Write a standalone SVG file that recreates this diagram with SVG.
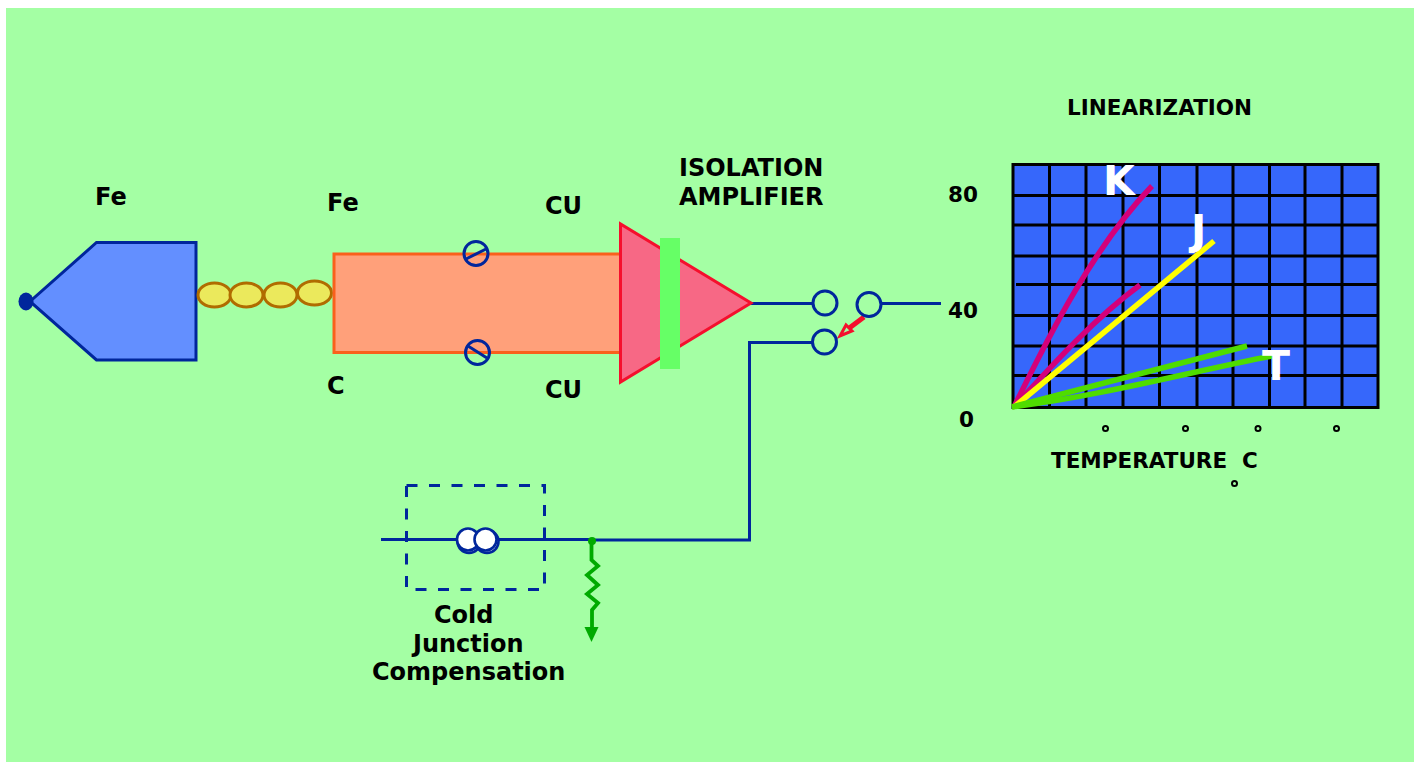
<svg xmlns="http://www.w3.org/2000/svg" width="1414" height="762" viewBox="0 0 1414 762">
<style>
text{font-family:"DejaVu Sans",sans-serif;font-weight:bold;fill:#000;font-size:24px}
.s{font-size:21.500px}
.w{fill:none;stroke:#00269c;stroke-width:3}
.c{fill:none;stroke:#00269c;stroke-width:3}
.b{fill:#ebe95c;stroke:#b06c00;stroke-width:3}
.g{stroke:#000;stroke-width:3;fill:none}
.deg{fill:none;stroke:#000;stroke-width:2}
.big{fill:#fff;font-size:41px}
</style>
<rect width="1414" height="762" fill="#fff"/>
<rect x="6" y="8" width="1408" height="754" fill="#a4ffa4"/>
<g id="connectors">
<path class="w" d="M751 303.500H814M880 303.500H941M813 342.500H749.500V540H591M381 539.500H591"/>
<path d="M591.500 541V560L598 566L587 575L598 585L587 594L598 603L592 610V630" fill="none" stroke="#00aa00" stroke-width="3.800"/>
<path d="M584.500 627H598.500L591.500 642Z" fill="#00aa00"/>
<circle cx="592" cy="541" r="4" fill="#00aa00"/>
<path d="M864 317L848 329" stroke="#f50f2d" stroke-width="5" fill="none"/>
<path d="M840 336L846 325L852 331Z" fill="#a4ffa4" stroke="#f50f2d" stroke-width="3"/>
</g>
<g id="probe">
<path d="M196 242.500H96.500L30 301.500L96.500 360H196Z" fill="#638fff" stroke="#00269c" stroke-width="3"/>
<ellipse cx="26" cy="301.500" rx="7.500" ry="9" fill="#00269c"/>
<text x="95" y="205">Fe</text>
</g>
<g id="beads">
<ellipse class="b" cx="214.500" cy="295" rx="16.500" ry="12"/>
<ellipse class="b" cx="246.500" cy="295" rx="16.500" ry="12"/>
<ellipse class="b" cx="280.500" cy="295" rx="16.500" ry="12"/>
<ellipse class="b" cx="314.500" cy="293" rx="17" ry="12"/>
</g>
<g id="extension">
<rect x="334" y="254" width="287" height="98.500" fill="#ffa07a" stroke="#f9601c" stroke-width="3"/>
<text x="327" y="211">Fe</text>
<text x="327" y="394">C</text>
<text x="545" y="214">CU</text>
<text x="545" y="398">CU</text>
</g>
<g id="terminal-top">
<circle class="c" cx="476" cy="253.500" r="12"/>
<path class="c" d="M466 259L486 249"/>
</g>
<g id="terminal-bottom">
<circle class="c" cx="477.500" cy="352.500" r="12"/>
<path class="c" d="M468 346L487 358"/>
</g>
<g id="amplifier">
<path d="M620.500 224V382L751 303Z" fill="#f76885" stroke="#f50f2d" stroke-width="3"/>
<rect x="660" y="238" width="20" height="131" fill="#66ff66"/>
<text x="679" y="176">ISOLATION</text>
<text x="679" y="205">AMPLIFIER</text>
</g>
<g id="switch">
<circle class="c" cx="825" cy="303" r="12"/>
<circle class="c" cx="869" cy="304.500" r="12"/>
<circle class="c" cx="824.500" cy="342" r="12"/>
</g>
<g id="cold-junction">
<rect x="406.500" y="485.500" width="138" height="104" fill="none" stroke="#00269c" stroke-width="3" stroke-dasharray="11 11.500"/>
<circle cx="469" cy="541.500" r="11.500" fill="#fff" stroke="#00269c" stroke-width="2.600"/>
<circle cx="487" cy="541.500" r="11.500" fill="#fff" stroke="#00269c" stroke-width="2.600"/>
<circle cx="468" cy="539.500" r="11" fill="#fff" stroke="#00269c" stroke-width="2.600"/>
<circle cx="485.500" cy="539.500" r="11" fill="#fff" stroke="#00269c" stroke-width="2.600"/>
<text x="434" y="623">Cold</text>
<text x="413" y="652">Junction</text>
<text x="372" y="680">Compensation</text>
</g>
<g id="chart">
<rect x="1013" y="164.500" width="364.500" height="243" fill="#3667fb"/>
<path class="g" d="M1013 164.500H1378V407.500H1013ZM1049.500 164.500V407.500M1086 164.500V407.500M1123 164.500V407.500M1159.500 164.500V407.500M1197 164.500V407.500M1233 164.500V407.500M1269.500 164.500V407.500M1305 164.500V407.500M1342 164.500V407.500M1013 195.500H1378M1013 225H1378M1013 256H1378M1016 284.500H1378M1013 315.500H1378M1013 346H1378M1013 375.500H1378"/>
<path d="M1014 407C1050 333 1095 245 1152 186" fill="none" stroke="#d4007a" stroke-width="5.500"/>
<path d="M1014 407C1055 362 1095 318 1140 285" fill="none" stroke="#d4007a" stroke-width="5.500"/>
<path d="M1014 407L1214 241" fill="none" stroke="#ffff00" stroke-width="5.500"/>
<path d="M1012 407L1247 346" fill="none" stroke="#4fdc00" stroke-width="5.500"/>
<path d="M1012 407C1100 396 1190 372 1272 356" fill="none" stroke="#4fdc00" stroke-width="5.500"/>
<text class="big" x="1103" y="195">K</text>
<text class="big" x="1191" y="244">J</text>
<text class="big" x="1262" y="380">T</text>
<text class="s" x="1067" y="115">LINEARIZATION</text>
<text class="s" x="948" y="202">80</text>
<text class="s" x="948" y="318">40</text>
<text class="s" x="959" y="427">0</text>
<text class="s" x="1051" y="468" xml:space="preserve">TEMPERATURE  C</text>
<circle class="deg" cx="1105.500" cy="428.500" r="2.500"/>
<circle class="deg" cx="1185.500" cy="428.500" r="2.500"/>
<circle class="deg" cx="1258" cy="428.500" r="2.500"/>
<circle class="deg" cx="1336.500" cy="428.500" r="2.500"/>
<circle class="deg" cx="1234.500" cy="483.500" r="2.500"/>
</g>
</svg>
